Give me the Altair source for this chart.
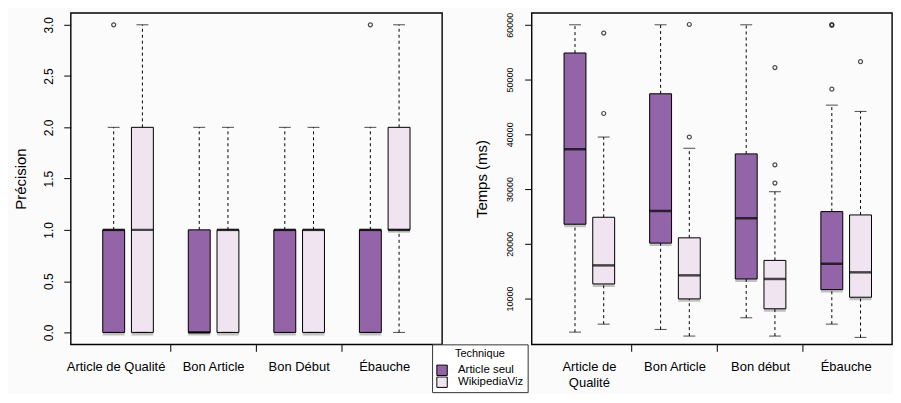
import altair as alt
import pandas as pd

# ---------------- data ----------------
techs = ["Article seul", "WikipediaViz"]
colors = ["#9464a8", "#efe4f0"]

cats_left = ["Article de Qualité", "Bon Article", "Bon Début", "Ébauche"]
# order: (cat, tech) pairs
prec_q1 = [0, 0, 0, 0, 0, 0, 0, 1]
prec_med = [1, 1, 0, 1, 1, 1, 1, 1]
prec_q3 = [1, 2, 1, 1, 1, 1, 1, 2]
prec_lo = [0, 0, 0, 0, 0, 0, 0, 0]
prec_hi = [2, 3, 2, 2, 2, 2, 2, 3]
prec_out_cat = ["Article de Qualité", "Ébauche"]
prec_out_tech = ["Article seul", "Article seul"]
prec_out_val = [3, 3]

cats_right = ["Article de Qualité", "Bon Article", "Bon début", "Ébauche"]
time_q1 = [23580, 12670, 20130, 9940, 13580, 8130, 11640, 10240]
time_med = [37270, 16060, 26000, 14240, 24670, 13580, 16360, 14790]
time_q3 = [54850, 24850, 47400, 21090, 36420, 16970, 25880, 25270]
time_lo = [3870, 5330, 4360, 3150, 6490, 3150, 5330, 2910]
time_hi = [60000, 39500, 60000, 37450, 60000, 29510, 45330, 44180]
time_out_cat = ["Article de Qualité", "Article de Qualité", "Bon Article", "Bon Article",
                "Bon début", "Bon début", "Bon début", "Ébauche", "Ébauche", "Ébauche", "Ébauche"]
time_out_tech = ["WikipediaViz", "WikipediaViz", "WikipediaViz", "WikipediaViz",
                 "WikipediaViz", "WikipediaViz", "WikipediaViz", "Article seul", "Article seul",
                 "Article seul", "WikipediaViz"]
time_out_val = [58490, 43800, 60060, 39500, 52180, 34420, 31090, 48240, 60060, 59900, 53270]

FONT = "Liberation Sans"


def stats_df(cats, q1, med, q3, lo, hi):
    rows = []
    i = 0
    for c in cats:
        for t in techs:
            rows.append(dict(cat=c, tech=t, q1=q1[i], med=med[i], q3=q3[i], lo=lo[i], hi=hi[i]))
            i += 1
    return pd.DataFrame(rows)


def panel(cats, stats, out, ydomain, yvalues, yfmt, ytitle, ylabsize, ytitlesize, width,
          pad_outer, align, lab_pad, title_pad, label_expr=None, label_offset=None):
    xscale = alt.Scale(domain=cats, paddingOuter=pad_outer, paddingInner=0, align=align)
    offscale = alt.Scale(domain=techs, paddingOuter=0.49, paddingInner=0)
    yscale = alt.Scale(domain=ydomain, nice=False, zero=False)
    xaxis_kw = dict(title=None, ticks=False, domain=False, labelAngle=0, labelFontSize=13,
                    labelPadding=16, labelColor="black", labelFont=FONT, labelLineHeight=16)
    if label_expr:
        xaxis_kw["labelExpr"] = label_expr
    if label_offset is not None:
        xaxis_kw["labelOffset"] = label_offset
    xaxis = alt.Axis(**xaxis_kw)
    yaxis = alt.Axis(title=ytitle, values=yvalues, format=yfmt, labelAngle=-90,
                     labelFontSize=ylabsize, labelColor="black", labelFont=FONT,
                     tickSize=7, tickColor="black", labelPadding=lab_pad, domain=False, grid=False,
                     titleFontSize=ytitlesize, titleFontWeight="normal", titleColor="black",
                     titleFont=FONT, titlePadding=title_pad)
    X = alt.X("cat:N", scale=xscale, axis=xaxis, sort=cats)
    XO = alt.XOffset("tech:N", scale=offscale, sort=techs)

    base = alt.Chart(stats)
    shadow = base.mark_bar(size=22, color="#555555", opacity=0.35, xOffset=4, yOffset=3).encode(
        x=X, xOffset=XO, y=alt.Y("q1:Q", scale=yscale, axis=yaxis), y2="q3:Q")
    up = base.mark_rule(color="black", strokeDash=[3, 3], strokeWidth=1).encode(
        x=X, xOffset=XO, y=alt.Y("q3:Q", scale=yscale, axis=yaxis), y2="hi:Q")
    dn = base.mark_rule(color="black", strokeDash=[3, 3], strokeWidth=1).encode(
        x=X, xOffset=XO, y=alt.Y("lo:Q", scale=yscale, axis=yaxis), y2="q1:Q")
    bars = base.mark_bar(size=22, stroke="black", strokeWidth=1).encode(
        x=X, xOffset=XO, y=alt.Y("q1:Q", scale=yscale, axis=yaxis), y2="q3:Q",
        color=alt.Color("tech:N", scale=alt.Scale(domain=techs, range=colors),
                        legend=alt.Legend(title="Technique")))
    caphi = base.mark_tick(color="black", size=12, thickness=1).encode(
        x=X, xOffset=XO, y=alt.Y("hi:Q", scale=yscale, axis=yaxis))
    caplo = base.mark_tick(color="black", size=12, thickness=1).encode(
        x=X, xOffset=XO, y=alt.Y("lo:Q", scale=yscale, axis=yaxis))
    med = base.mark_tick(color="black", size=22, thickness=2.5).encode(
        x=X, xOffset=XO, y=alt.Y("med:Q", scale=yscale, axis=yaxis))
    pts = alt.Chart(out).mark_point(shape="circle", filled=False, color="black", size=16,
                                    strokeWidth=1.2).encode(
        x=X, xOffset=XO, y=alt.Y("val:Q", scale=yscale, axis=yaxis))
    main = alt.layer(shadow, up, dn, bars, caphi, caplo, med, pts)

    tick_axis = alt.Axis(title=None, labels=False, domain=False, ticks=True, tickSize=7,
                         tickColor="black", bandPosition=0, values=cats[1:], orient="bottom",
                         grid=False)
    ticks_layer = alt.Chart(stats).mark_tick(opacity=0).encode(
        x=alt.X("cat:N", scale=xscale, axis=tick_axis, sort=cats))
    return alt.layer(main, ticks_layer).resolve_axis(x="independent").properties(
        width=width, height=333)


left_stats = stats_df(cats_left, prec_q1, prec_med, prec_q3, prec_lo, prec_hi)
left_out = pd.DataFrame(dict(cat=prec_out_cat, tech=prec_out_tech, val=prec_out_val))
right_stats = stats_df(cats_right, time_q1, time_med, time_q3, time_lo, time_hi)
right_out = pd.DataFrame(dict(cat=time_out_cat, tech=time_out_tech, val=time_out_val))

left = panel(cats_left, left_stats, left_out, [-0.1165, 3.1165],
             [0, 0.5, 1, 1.5, 2, 2.5, 3], ".1f", "Précision", 12, 15, 373, 0.17, 0.5, 8, 14,
             label_offset={"condition": {"test": "datum.value == 'Article de Qualité'", "value": -12},
                           "value": 0})
right = panel(cats_right, right_stats, right_out, [1636, 62182],
              [10000, 20000, 30000, 40000, 50000, 60000], "d", "Temps (ms)", 9, 15, 362,
              0.1047, 0.833, 10, 16,
              label_expr="datum.value == 'Article de Qualité' ? ['Article de', 'Qualité'] : datum.label")

chart = alt.hconcat(left, right, spacing=31).properties(
    padding={"left": 5, "top": 2, "right": 0, "bottom": 0},
    background="#fbfbfc",
).configure_view(
    stroke="black", strokeWidth=1.4, fill="#fbfbfc"
).configure_legend(
    orient="none", legendX=363, legendY=333, direction="vertical",
    fillColor="white", strokeColor="#333333", padding=4,
    titleFontSize=11, titleFontWeight="normal", titleFont=FONT, titleColor="black",
    titleAnchor="middle",
    labelFontSize=11.5, labelFont=FONT, labelColor="black", labelOffset=10,
    symbolType="square", symbolSize=110, symbolStrokeColor="black", symbolStrokeWidth=1,
    rowPadding=0, titlePadding=5, clipHeight=12,
)

chart.save("out.html", embed_options={"renderer": "svg", "actions": False})
